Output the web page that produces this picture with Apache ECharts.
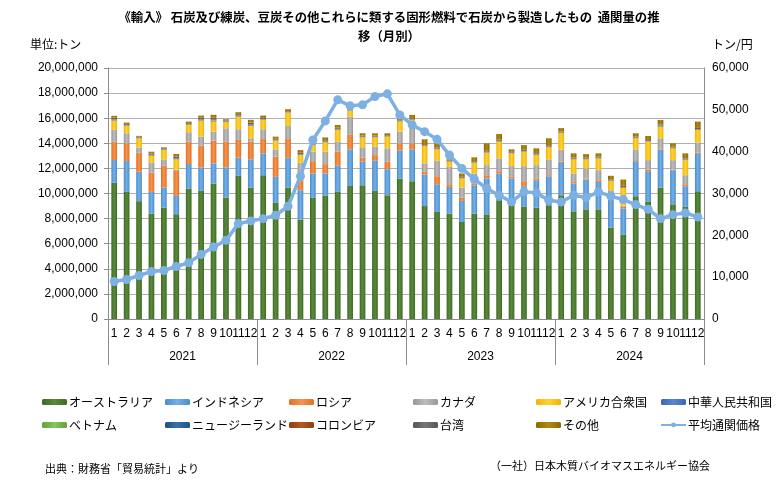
<!DOCTYPE html>
<html>
<head>
<meta charset="utf-8">
<script src="https://cdn.jsdelivr.net/npm/echarts@6/dist/echarts.min.js"></script>
<style>
html,body{margin:0;padding:0;background:#fff;}
#chart{width:778px;height:485px;}
</style>
</head>
<body>
<div id="chart"></div>
<script>
// ---- Data (tonnes; price yen/tonne) ----
const years = ['2021', '2022', '2023', '2024'];
const monthLabels = [
  '1','2','3','4','5','6','7','8','9','10','11','12',
  '1','2','3','4','5','6','7','8','9','10','11','12',
  '1','2','3','4','5','6','7','8','9','10','11','12',
  '1','2','3','4','5','6','7','8','9','10','11','12'
];
const australia = [
  10850000,10130000,9390000,8400000,8880000,8350000,10400000,10210000,10800000,9680000,11410000,10480000,
  11460000,9250000,10480000,7920000,9650000,9810000,10130000,10600000,10660000,10210000,9860000,11200000,
  10980000,9000000,8530000,8400000,7730000,8400000,8340000,9460000,9200000,8930000,8870000,9060000,
  9860000,8580000,8740000,8740000,7280000,6740000,9780000,9330000,10480000,9140000,8930000,10180000
];
const indonesia = [
  1820000,2460000,2340000,1730000,1600000,1460000,1950000,1870000,1600000,2400000,1440000,2240000,
  1740000,2080000,2370000,2340000,1950000,1790000,2080000,2920000,1870000,2400000,2080000,2210000,
  2540000,2510000,2210000,2130000,1680000,2260000,2860000,2140000,2000000,1650000,2190000,2270000,
  2570000,2220000,2380000,2180000,2640000,2060000,2800000,2450000,3030000,2720000,1650000,2970000
];
const russia = [
  1460000,1410000,1520000,1520000,1730000,1980000,1780000,1730000,1810000,2050000,1420000,1410000,
  1140000,1600000,1490000,800000,980000,740000,1120000,1150000,320000,450000,590000,590000,
  480000,220000,640000,210000,260000,130000,260000,180000,120000,400000,140000,130000,
  110000,120000,80000,140000,50000,130000,80000,140000,90000,50000,160000,100000
];
const canada = [
  940000,800000,400000,800000,510000,100000,750000,720000,720000,1070000,850000,270000,
  780000,590000,1050000,1390000,750000,990000,800000,1460000,830000,670000,1070000,930000,
  1460000,670000,1230000,1390000,800000,800000,800000,1020000,860000,1200000,1060000,1260000,
  950000,680000,800000,800000,290000,100000,860000,740000,800000,750000,720000,800000
];
const usa = [
  740000,590000,750000,540000,750000,830000,590000,1280000,800000,480000,1010000,990000,
  740000,690000,1060000,610000,530000,740000,930000,480000,790000,740000,930000,800000,
  400000,1380000,910000,400000,730000,860000,990000,1330000,1020000,1150000,800000,960000,
  1320000,1120000,720000,940000,740000,1420000,880000,1470000,930000,940000,1200000,1010000
];
const china = [
  60000,40000,30000,50000,40000,50000,40000,60000,70000,40000,50000,60000,
  40000,40000,30000,40000,40000,40000,50000,20000,30000,30000,30000,20000,
  30000,30000,30000,20000,30000,30000,40000,30000,30000,30000,30000,30000,
  30000,30000,30000,30000,30000,30000,30000,30000,60000,30000,30000,30000
];
const vietnam = [
  20000,10000,10000,20000,10000,20000,10000,20000,60000,10000,20000,20000,
  20000,10000,10000,20000,10000,20000,20000,10000,10000,10000,10000,10000,
  10000,10000,10000,10000,10000,10000,10000,10000,10000,10000,10000,10000,
  10000,10000,10000,10000,10000,10000,10000,10000,10000,10000,10000,10000
];
const newZealand = [
  40000,30000,20000,40000,30000,40000,30000,40000,50000,30000,40000,50000,
  30000,30000,20000,30000,30000,30000,30000,20000,30000,30000,20000,20000,
  20000,30000,30000,10000,20000,20000,40000,30000,20000,30000,30000,30000,
  20000,20000,20000,20000,20000,30000,20000,20000,30000,20000,20000,30000
];
const colombia = [
  90000,60000,50000,80000,50000,100000,60000,90000,110000,60000,80000,110000,
  60000,60000,50000,80000,60000,80000,70000,40000,60000,60000,50000,40000,
  60000,80000,80000,30000,60000,60000,100000,80000,50000,70000,70000,90000,
  60000,70000,60000,60000,60000,90000,60000,60000,70000,60000,70000,90000
];
const taiwan = [
  20000,10000,10000,20000,10000,20000,10000,20000,20000,10000,20000,20000,
  10000,10000,10000,20000,10000,10000,10000,10000,10000,10000,10000,10000,
  10000,10000,10000,10000,10000,10000,10000,10000,10000,10000,10000,10000,
  10000,10000,10000,10000,10000,10000,10000,10000,10000,10000,10000,10000
];
const others = [
  150000,110000,70000,130000,70000,200000,110000,170000,230000,90000,140000,220000,
  190000,170000,150000,210000,190000,220000,220000,100000,190000,190000,150000,100000,
  270000,380000,320000,120000,270000,300000,550000,450000,200000,380000,390000,550000,
  270000,340000,290000,270000,280000,490000,270000,320000,350000,270000,400000,500000
];
const avgPrice = [
  8960,9440,10400,11360,11600,12560,13440,15440,17200,18800,22800,23440,
  23990,24790,26950,34150,42790,47350,52390,50950,51190,53190,53830,48790,
  46390,44790,42950,39190,35990,33430,31190,29590,27990,30390,30150,28390,
  27990,29590,29030,30390,29350,28550,27350,26230,23990,24950,25350,24390
];
const leftTicks = { min: 0, max: 20000000, interval: 2000000 };
const rightTicks = { min: 0, max: 60000, interval: 10000 };

// ---- styles ----
const FONT = '"Noto Sans CJK JP", "Liberation Sans", sans-serif';
function grad(edge, mid) {
  return new echarts.graphic.LinearGradient(0, 0, 1, 0, [
    { offset: 0, color: edge }, { offset: 0.5, color: mid }, { offset: 1, color: edge }
  ]);
}
const barDefs = [
  ['オーストラリア', australia, '#3f6a24', '#5a8a3c'],
  ['インドネシア', indonesia, '#4a8ccb', '#74b0e6'],
  ['ロシア', russia, '#e36f22', '#f5944f'],
  ['カナダ', canada, '#979797', '#bdbdbd'],
  ['アメリカ合衆国', usa, '#f0b400', '#ffd23a'],
  ['中華人民共和国', china, '#3a64b4', '#5a86d4'],
  ['ベトナム', vietnam, '#62a03c', '#86c65c'],
  ['ニュージーランド', newZealand, '#1f5283', '#3a72a8'],
  ['コロンビア', colombia, '#8e3f0c', '#b45a20'],
  ['台湾', taiwan, '#555555', '#767676'],
  ['その他', others, '#8a6800', '#b08a10']
];
const series = barDefs.map(d => ({
  name: d[0], type: 'bar', stack: 'imp', data: d[1],
  xAxisIndex: 0, yAxisIndex: 0, barWidth: '46%',
  itemStyle: { color: grad(d[2], d[3]) },
  emphasis: { disabled: true }
}));
series.push({
  name: '平均通関価格', type: 'line', data: avgPrice, xAxisIndex: 0, yAxisIndex: 1,
  symbol: 'circle', symbolSize: 9, z: 5,
  lineStyle: { width: 3.5, color: '#7db1e3' },
  itemStyle: { color: '#7db1e3' }
});

const legendCols = [
  ['オーストラリア', 'ベトナム'],
  ['インドネシア', 'ニュージーランド'],
  ['ロシア', 'コロンビア'],
  ['カナダ', '台湾'],
  ['アメリカ合衆国', 'その他'],
  ['中華人民共和国', '平均通関価格']
];
const legendX = [42, 165, 289, 413, 536, 660];
const legends = legendCols.map((c, i) => ({
  data: c, left: legendX[i], top: 396, orient: 'vertical', itemGap: 11,
  itemWidth: 25, itemHeight: 6, padding: 0,
  textStyle: { fontFamily: FONT, fontSize: 12, color: '#000', padding: [0, 0, 0, -3] },
  selectedMode: false
}));

const fmt = v => v.toLocaleString('en-US');
const chart = echarts.init(document.getElementById('chart'), null, { renderer: 'canvas' });
chart.setOption({
  animation: false,
  backgroundColor: '#fff',
  textStyle: { fontFamily: FONT },
  title: {
    text: '《輸入》 石炭及び練炭、豆炭その他これらに類する固形燃料で石炭から製造したもの  通関量の推\n移（月別）',
    left: 'center', top: 3,
    textStyle: { fontFamily: FONT, fontSize: 12.4, fontWeight: 'bold', color: '#000', lineHeight: 19 }
  },
  legend: legends,
  grid: { left: 108, right: 74, top: 68, bottom: 166 },
  xAxis: [
    {
      type: 'category', data: monthLabels, position: 'bottom',
      axisLine: { show: true, lineStyle: { color: '#8c8c8c', width: 1 } },
      axisTick: { show: false },
      axisLabel: { interval: 0, fontSize: 12, color: '#000', margin: 9, fontFamily: '"Liberation Sans", sans-serif' }
    },
    {
      type: 'category', data: years, position: 'bottom',
      axisLine: { show: false },
      axisTick: { show: true, length: 46, lineStyle: { color: '#8c8c8c' } },
      axisLabel: { fontSize: 12, color: '#000', margin: 32, fontFamily: '"Liberation Sans", sans-serif' }
    }
  ],
  yAxis: [
    {
      type: 'value', min: leftTicks.min, max: leftTicks.max, interval: leftTicks.interval,
      axisLine: { show: true, lineStyle: { color: '#8c8c8c' } },
      axisTick: { show: true, length: 4, lineStyle: { color: '#8c8c8c' } },
      splitLine: { lineStyle: { color: '#b0b0b0' } },
      axisLabel: { formatter: fmt, fontSize: 12, color: '#000', margin: 10, fontFamily: '"Liberation Sans", sans-serif' }
    },
    {
      type: 'value', position: 'right', min: rightTicks.min, max: rightTicks.max, interval: rightTicks.interval,
      axisLine: { show: true, lineStyle: { color: '#8c8c8c' } },
      axisTick: { show: false },
      splitLine: { show: false },
      axisLabel: { formatter: fmt, fontSize: 12, color: '#000', margin: 8, fontFamily: '"Liberation Sans", sans-serif' }
    }
  ],
  graphic: [
    { type: 'text', left: 30, top: 38, style: { text: '単位:トン', font: '12px ' + FONT, fill: '#000' } },
    { type: 'text', left: 712, top: 38, style: { text: 'トン/円', font: '12px ' + FONT, fill: '#000' } },
    { type: 'text', left: 45, top: 463, style: { text: '出典：財務省「貿易統計」より', font: '11px ' + FONT, fill: '#000' } },
    { type: 'text', left: 490, top: 460, style: { text: '（一社）日本木質バイオマスエネルギー協会', font: '11px ' + FONT, fill: '#000' } }
  ],
  series: series
});
</script>
</body>
</html>
